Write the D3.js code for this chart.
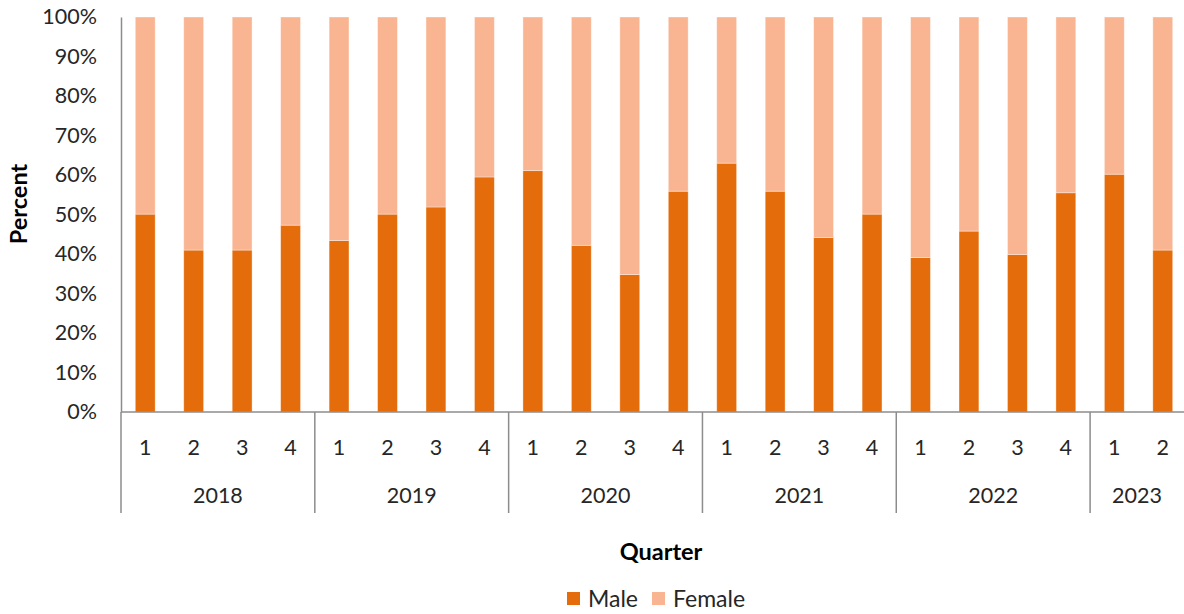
<!DOCTYPE html>
<html>
<head>
<meta charset="utf-8">
<script src="https://cdn.jsdelivr.net/npm/d3@7"></script>
<style>
  body { margin: 0; background: #fff; }
  svg { display: block; font-family: Lato, "Open Sans", sans-serif; }
</style>
</head>
<body>
<script>
// chart data
const years = ['2018', '2018', '2018', '2018', '2019', '2019', '2019', '2019',
  '2020', '2020', '2020', '2020', '2021', '2021', '2021', '2021',
  '2022', '2022', '2022', '2022', '2023', '2023'];
const quarters = ['1', '2', '3', '4', '1', '2', '3', '4', '1', '2', '3', '4',
  '1', '2', '3', '4', '1', '2', '3', '4', '1', '2'];
const male = [50.1, 41.0, 41.0, 47.3, 43.4, 50.1, 51.9, 59.5, 61.1, 42.2, 34.8, 55.9,
  63.0, 55.9, 44.2, 50.1, 39.1, 45.8, 39.9, 55.5, 60.2, 41.0];
const female = [49.9, 59.0, 59.0, 52.7, 56.6, 49.9, 48.1, 40.5, 38.9, 57.8, 65.2, 44.1,
  37.0, 44.1, 55.8, 49.9, 60.9, 54.2, 60.1, 44.5, 39.8, 59.0];
const yTicks = [0, 10, 20, 30, 40, 50, 60, 70, 80, 90, 100];
const seriesNames = ['Male', 'Female'];
const colors = ['#e46c0a', '#f9b591'];

const svgWidth = 1184;
const svgHeight = 614;
const plot = { left: 121, right: 1187, top: 17, bottom: 412 };

const svg = d3.select('body')
  .append('svg')
  .attr('width', svgWidth)
  .attr('height', svgHeight);

const keys = quarters.map((q, i) => `${years[i]}-${q}`);

const x = d3.scaleBand()
  .domain(keys)
  .range([plot.left, plot.right])
  .paddingInner(0.59)
  .paddingOuter(0.295);

const y = d3.scaleLinear()
  .domain([0, 100])
  .range([plot.bottom, plot.top]);

const rows = keys.map((k, i) => ({ key: k, Male: male[i], Female: female[i] }));
const stacked = d3.stack().keys(seriesNames)(rows);

// bars
svg.append('g')
  .selectAll('g')
  .data(stacked).enter()
  .append('g')
  .attr('fill', (d, i) => colors[i])
  .selectAll('rect')
  .data((d) => d).enter()
  .append('rect')
  .attr('x', (d) => x(d.data.key))
  .attr('y', (d) => y(d[1]))
  .attr('width', x.bandwidth())
  .attr('height', (d) => y(d[0]) - y(d[1]))
  .attr('stroke', '#fff')
  .attr('stroke-opacity', 0.45)
  .attr('stroke-width', 0.8);

// y axis, labels only
const yAxis = svg.append('g')
  .attr('transform', `translate(${plot.left},0)`)
  .call(d3.axisLeft(y).tickValues(yTicks).tickSize(0).tickPadding(24)
    .tickFormat((d) => d + '%'));
yAxis.select('.domain').attr('stroke', '#8c8c8c').attr('stroke-width', 1.5);
yAxis.selectAll('text')
  .attr('font-size', 21.5)
  .attr('fill', '#262626')
  .attr('font-family', 'Lato, "Open Sans", sans-serif');

// x axis line
svg.append('line')
  .attr('x1', plot.left).attr('x2', svgWidth)
  .attr('y1', plot.bottom).attr('y2', plot.bottom)
  .attr('stroke', '#8c8c8c').attr('stroke-width', 1.5);

// quarter labels
svg.append('g')
  .selectAll('text')
  .data(keys).enter()
  .append('text')
  .attr('x', (d) => x(d) + x.bandwidth() / 2)
  .attr('y', 447)
  .attr('dy', '0.35em')
  .attr('text-anchor', 'middle')
  .attr('font-size', 21.5)
  .attr('fill', '#262626')
  .text((d, i) => quarters[i]);

// year groups
const gap = (x.step() - x.bandwidth()) / 2;
const groups = Array.from(d3.group(keys, (d, i) => d.slice(0, 4)), ([yr, ks]) => ({
  year: yr,
  x0: x(ks[0]) - gap,
  x1: x(ks[ks.length - 1]) + x.bandwidth() + gap
}));

svg.append('g')
  .selectAll('line')
  .data(groups).enter()
  .append('line')
  .attr('x1', (d) => d.x0).attr('x2', (d) => d.x0)
  .attr('y1', plot.bottom).attr('y2', 513)
  .attr('stroke', '#8c8c8c').attr('stroke-width', 1.5);

svg.append('g')
  .selectAll('text')
  .data(groups).enter()
  .append('text')
  .attr('x', (d) => (d.x0 + Math.min(d.x1, svgWidth)) / 2)
  .attr('y', 495)
  .attr('dy', '0.35em')
  .attr('text-anchor', 'middle')
  .attr('font-size', 21.5)
  .attr('fill', '#262626')
  .text((d) => d.year);

// axis titles
svg.append('text')
  .attr('transform', 'translate(19,204) rotate(-90)')
  .attr('dy', '0.35em')
  .attr('text-anchor', 'middle')
  .attr('font-size', 23.5)
  .attr('font-weight', 'bold')
  .attr('fill', '#000')
  .text('Percent');

svg.append('text')
  .attr('x', 661)
  .attr('y', 552)
  .attr('dy', '0.35em')
  .attr('text-anchor', 'middle')
  .attr('font-size', 23.5)
  .attr('font-weight', 'bold')
  .attr('fill', '#000')
  .text('Quarter');

// legend
const legendX = [567, 652];
const legend = svg.append('g')
  .selectAll('g')
  .data(seriesNames).enter()
  .append('g')
  .attr('transform', (d, i) => `translate(${legendX[i]},592)`);
legend.append('rect')
  .attr('width', 13).attr('height', 13)
  .attr('fill', (d, i) => colors[i]);
legend.append('text')
  .attr('x', 21)
  .attr('y', 7)
  .attr('dy', '0.35em')
  .attr('font-size', 23)
  .attr('fill', '#262626')
  .text((d) => d);
</script>
</body>
</html>
